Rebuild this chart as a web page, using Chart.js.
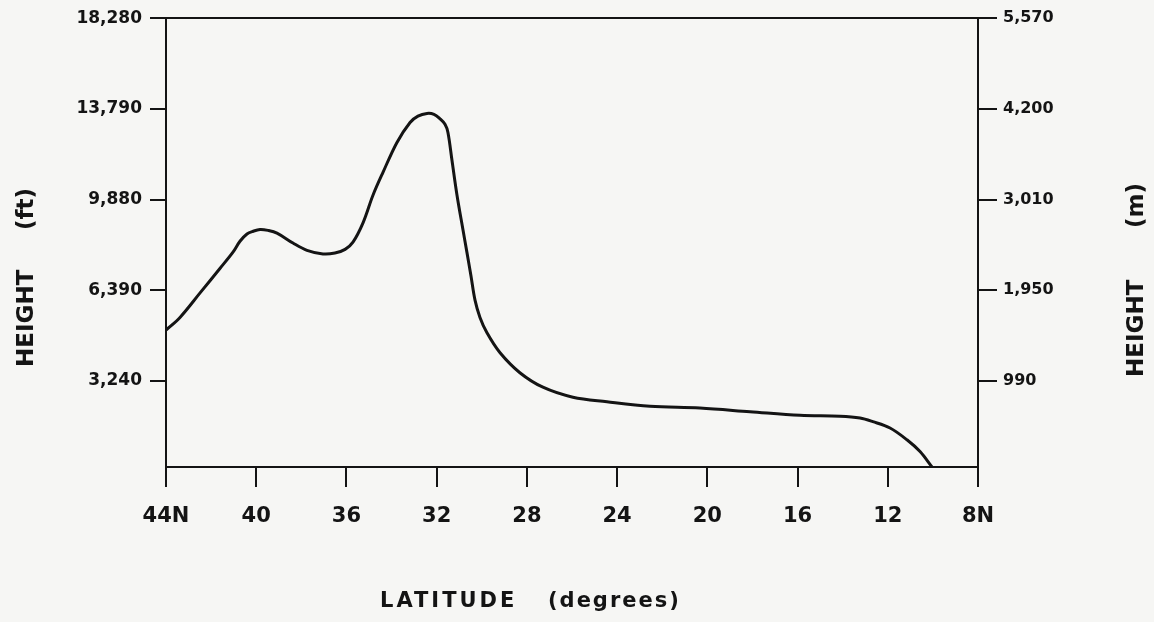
<!DOCTYPE html>
<html>
<head>
<meta charset="utf-8">
<script src="https://cdn.jsdelivr.net/npm/chart.js@4.4.1/dist/chart.umd.min.js"></script>
<style>
  html, body { margin: 0; padding: 0; background: #f6f6f4; }
  #wrap { width: 1154px; height: 622px; position: relative; }
</style>
</head>
<body>
<div id="wrap"><canvas id="profile"></canvas></div>
<script>
/* ── Data ── */
// latitude along the section, degrees N
const latitudes = [44.0, 43.38, 42.49, 41.61, 41.03, 40.72, 40.41, 40.14, 39.83, 39.48, 39.08,
  38.37, 37.75, 37.04, 36.51, 36.06, 35.71, 35.27, 34.82, 34.38, 33.76, 33.18, 32.83, 32.43,
  32.12, 31.85, 31.63, 31.50, 31.32, 31.10, 30.83, 30.66, 30.48, 30.30, 30.08, 29.77, 29.19,
  28.31, 27.29, 25.96, 24.45, 22.54, 20.33, 18.11, 15.89, 14.12, 13.23, 12.66, 11.90, 11.15,
  10.57, 10.04];
// surface level in pressure units (mb), which is how the height axis is spaced
const surfaceLevel = [844, 830, 803, 776, 758, 746, 738, 735, 733, 734, 737,
  748, 756, 760, 759, 755, 747, 726, 695, 670, 637, 615, 608, 605,
  606, 611, 617, 626, 657, 695, 734, 758, 784, 811, 830, 847, 869,
  891, 907, 918, 923, 928, 930, 934, 938, 939, 941, 945, 952, 965,
  978, 995];

const latTicks = [44, 40, 36, 32, 28, 24, 20, 16, 12, 8];
const latLabels = ['44N', '40', '36', '32', '28', '24', '20', '16', '12', '8N'];
const levelTicks = [500, 600, 700, 800, 900];
const feetLabels = ['18,280', '13,790', '9,880', '6,390', '3,240'];
const metreLabels = ['5,570', '4,200', '3,010', '1,950', '990'];

const INK = '#141414';
const FONT = '"DejaVu Sans", "Liberation Sans", sans-serif';

/* ── Axis titles ── */
const axisTitles = {
  id: 'axisTitles',
  afterDraw(chart) {
    const ctx = chart.ctx;
    ctx.save();
    ctx.fillStyle = INK;
    ctx.font = 'bold 23px ' + FONT;
    ctx.textAlign = 'left';
    ctx.textBaseline = 'middle';

    ctx.save();
    ctx.translate(27, 367);
    ctx.rotate(-Math.PI / 2);
    ctx.fillText('HEIGHT', 0, 0);
    ctx.fillText('(ft)', 137, 0);
    ctx.restore();

    ctx.save();
    ctx.translate(1137, 377);
    ctx.rotate(-Math.PI / 2);
    ctx.fillText('HEIGHT', 0, 0);
    ctx.fillText('(m)', 149, 0);
    ctx.restore();

    ctx.font = 'bold 21px ' + FONT;
    ctx.textBaseline = 'alphabetic';
    ctx.letterSpacing = '3px';
    ctx.fillText('LATITUDE', 380, 607);
    ctx.letterSpacing = '2px';
    ctx.fillText('(degrees)', 548, 607);
    ctx.restore();
  }
};

const setTicks = (values) => (scale) => { scale.ticks = values.map(v => ({ value: v })); };
const tickGrid = (len) => ({ drawOnChartArea: false, drawTicks: true, tickLength: len, color: INK, lineWidth: 2 });
const edge = { display: true, color: INK, width: 2 };

new Chart(document.getElementById('profile'), {
  type: 'line',
  data: {
    datasets: [{
      data: latitudes.map((lat, i) => ({ x: lat, y: surfaceLevel[i] })),
      borderColor: INK,
      borderWidth: 3,
      borderJoinStyle: 'round',
      pointRadius: 0,
      tension: 0.35,
      fill: false,
    }]
  },
  options: {
    responsive: true,
    maintainAspectRatio: false,
    animation: false,
    layout: { padding: { top: 17, left: 0, right: 0, bottom: 0 } },
    plugins: { legend: { display: false }, tooltip: { enabled: false } },
    scales: {
      x: {
        type: 'linear', position: 'bottom', reverse: true, min: 8, max: 44,
        afterBuildTicks: setTicks(latTicks),
        afterFit: s => { s.height = 155; },
        grid: tickGrid(20),
        border: edge,
        ticks: {
          color: INK, padding: 17, maxRotation: 0, autoSkip: false,
          font: { family: FONT, size: 21, weight: 'bold' },
          callback: v => latLabels[latTicks.indexOf(v)]
        }
      },
      xTop: {
        type: 'linear', position: 'top', reverse: true, min: 8, max: 44,
        afterFit: s => { s.height = 0; },
        grid: { display: false },
        border: edge,
        ticks: { display: false }
      },
      y: {
        type: 'linear', position: 'left', reverse: true, min: 500, max: 995,
        afterBuildTicks: setTicks(levelTicks),
        afterFit: s => { s.width = 166; },
        grid: tickGrid(16),
        border: edge,
        ticks: {
          color: INK, padding: 8,
          font: { family: FONT, size: 17, weight: 'bold' },
          callback: v => feetLabels[levelTicks.indexOf(v)]
        }
      },
      yRight: {
        type: 'linear', position: 'right', reverse: true, min: 500, max: 995,
        afterBuildTicks: setTicks(levelTicks),
        afterFit: s => { s.width = 176; },
        grid: tickGrid(19),
        border: edge,
        ticks: {
          color: INK, padding: 6,
          font: { family: FONT, size: 16, weight: 'bold' },
          callback: v => metreLabels[levelTicks.indexOf(v)]
        }
      }
    }
  },
  plugins: [axisTitles]
});
</script>
</body>
</html>
